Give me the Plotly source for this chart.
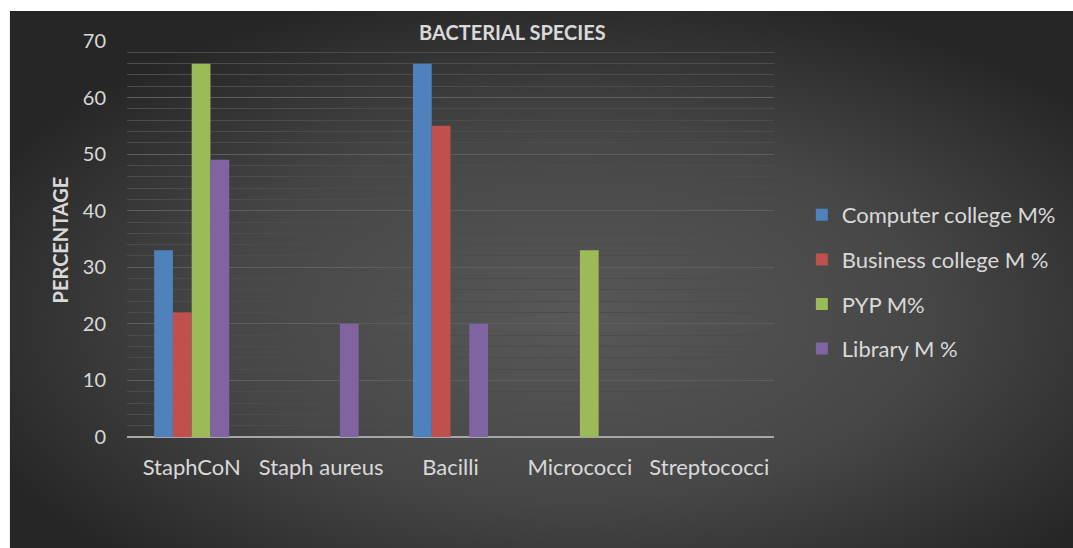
import base64
import plotly.graph_objects as go

categories = ["StaphCoN", "Staph aureus", "Bacilli", "Micrococci", "Streptococci"]
computer = [33, 0, 66, 0, 0]
business = [22, 0, 55, 0, 0]
pyp = [66, 0, 0, 33, 0]
library = [49, 20, 20, 0, 0]

series_names = ["Computer college M%", "Business college M %", "PYP M%", "Library M %"]
series_values = [computer, business, pyp, library]
series_colors = ["#4f81bd", "#c0504d", "#9bbb59", "#8064a2"]

W, H = 1073, 548
L, R, T, B = 127, 295, 41, 111
pw, ph = W - L - R, H - T - B
TXT = "#d9d9d9"
FONT = "Lato, 'Open Sans', sans-serif"

svg = f'''<svg xmlns="http://www.w3.org/2000/svg" width="1064" height="537" preserveAspectRatio="none">
<defs><radialGradient id="g" cx="52%" cy="55%" r="60%" fx="52%" fy="55%">
<stop offset="0" stop-color="#585858"/><stop offset="0.55" stop-color="#464646"/><stop offset="1" stop-color="#262626"/>
</radialGradient></defs><rect width="1064" height="537" fill="url(#g)"/></svg>'''
src = "data:image/svg+xml;base64," + base64.b64encode(svg.encode()).decode()

fig = go.Figure()
for i, (name, vals, col) in enumerate(zip(series_names, series_values, series_colors)):
    fig.add_trace(go.Bar(x=categories, y=vals, name=name, marker=dict(color=col, line=dict(width=0)),
                         legendgroup=f"g{i}"))

fig.update_layout(
    width=W, height=H,
    margin=dict(l=L, r=R, t=T, b=B),
    paper_bgcolor="white", plot_bgcolor="rgba(0,0,0,0)",
    barmode="group", bargap=0.42, bargroupgap=0,
    font=dict(family=FONT, color=TXT, size=18),
    showlegend=True,
    legend=dict(x=(806 - L) / pw, y=(437 - 194) / ph, xanchor="left", yanchor="top",
                traceorder="grouped", tracegroupgap=13, font=dict(size=22, color=TXT),
                bgcolor="rgba(0,0,0,0)"),
    xaxis=dict(showgrid=False, zeroline=False, showline=False, ticks="",
               tickfont=dict(size=22, color=TXT), ticklabelstandoff=15),
    yaxis=dict(range=[0, 70], dtick=10, showgrid=True, gridcolor="#5e5e5e", gridwidth=1,
               minor=dict(dtick=2, showgrid=True, gridcolor="#4c4c4c", gridwidth=1),
               zeroline=True, zerolinecolor="#a6a6a6", zerolinewidth=2,
               showline=False, ticks="", tickfont=dict(size=20, color=TXT), ticklabelstandoff=20),
    images=[dict(source=src, xref="paper", yref="paper",
                 x=(9 - L) / pw, y=(437 - 11) / ph, sizex=(W + 30 - 9) / pw, sizey=(H + 20 - 11) / ph,
                 xanchor="left", yanchor="top", sizing="stretch", layer="below")],
    annotations=[
        dict(text="<b>BACTERIAL SPECIES</b>", xref="paper", yref="paper",
             x=(515 - L) / pw, y=(437 - 32) / ph, xanchor="center", yanchor="middle",
             showarrow=False, font=dict(size=20, color=TXT, family=FONT)),
        dict(text="<b>PERCENTAGE</b>", xref="paper", yref="paper",
             x=(60 - L) / pw, y=(437 - 240) / ph, xanchor="center", yanchor="middle",
             textangle=-90, showarrow=False, font=dict(size=20, color=TXT, family=FONT)),
    ],
)

fig.write_html("out.html", config={"displayModeBar": False},
               post_script="document.body.style.margin='0px';document.body.style.overflow='hidden';")
